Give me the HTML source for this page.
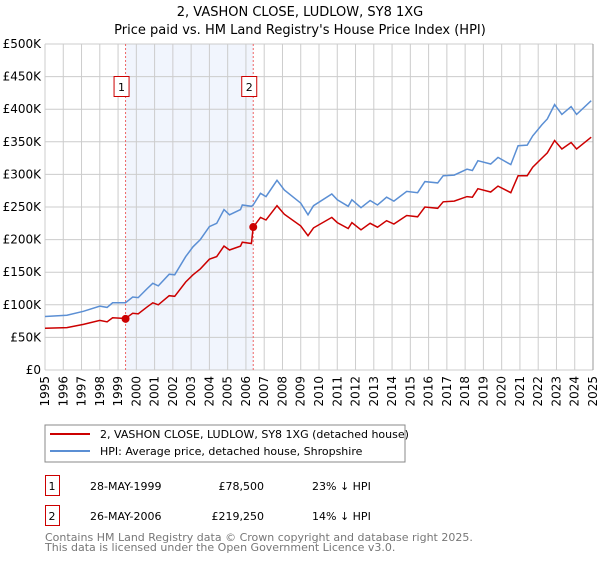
<!DOCTYPE html>
<html><head><meta charset="utf-8"><style>
body{margin:0;background:#fff;font-family:"Liberation Sans","DejaVu Sans",sans-serif;}
svg text{font-family:"DejaVu Sans","Liberation Sans",sans-serif;}
</style></head><body>
<svg id="c" width="600" height="560" xmlns="http://www.w3.org/2000/svg">
<text x="300" y="16" text-anchor="middle" font-size="13">2, VASHON CLOSE, LUDLOW, SY8 1XG</text>
<text x="300" y="34" text-anchor="middle" font-size="13">Price paid vs. HM Land Registry's House Price Index (HPI)</text>
<g id="grid"></g><g id="series"></g><g id="axes"></g>
<rect x="45" y="425" width="360" height="37" fill="#fff" stroke="#888"/>
<line x1="50" y1="434" x2="90" y2="434" stroke="#cc0000" stroke-width="2"/>
<text x="100" y="438" font-size="11">2, VASHON CLOSE, LUDLOW, SY8 1XG (detached house)</text>
<line x1="50" y1="451" x2="90" y2="451" stroke="#5b8fd4" stroke-width="2"/>
<text x="100" y="455" font-size="11">HPI: Average price, detached house, Shropshire</text>
<rect x="45.5" y="475.5" width="14" height="20" fill="none" stroke="#cc0000"/>
<text x="52" y="490" font-size="11" text-anchor="middle">1</text>
<text x="90" y="490" font-size="11">28-MAY-1999</text>
<text x="264" y="490" font-size="11" text-anchor="end">£78,500</text>
<text x="312" y="490" font-size="11">23% ↓ HPI</text>
<rect x="45.5" y="505.5" width="14" height="20" fill="none" stroke="#cc0000"/>
<text x="52" y="520" font-size="11" text-anchor="middle">2</text>
<text x="90" y="520" font-size="11">26-MAY-2006</text>
<text x="264" y="520" font-size="11" text-anchor="end">£219,250</text>
<text x="312" y="520" font-size="11">14% ↓ HPI</text>
<text x="45" y="541" font-size="11" fill="#777">Contains HM Land Registry data © Crown copyright and database right 2025.</text>
<text x="45" y="551" font-size="11" fill="#777">This data is licensed under the Open Government Licence v3.0.</text>
</svg>
<script>
const years=[1995.0,1996.2,1997.1,1998.0,1998.4,1998.7,1999.4,1999.8,2000.1,2000.6,2000.9,2001.2,2001.8,2002.1,2002.7,2003.1,2003.5,2004.0,2004.4,2004.8,2005.1,2005.7,2005.8,2006.3,2006.4,2006.8,2007.1,2007.7,2008.1,2009.0,2009.4,2009.7,2010.7,2011.0,2011.6,2011.8,2012.3,2012.8,2013.2,2013.7,2014.1,2014.8,2015.4,2015.8,2016.5,2016.8,2017.4,2018.1,2018.4,2018.7,2019.4,2019.8,2020.5,2020.9,2021.4,2021.7,2022.2,2022.5,2022.9,2023.3,2023.8,2024.1,2024.9];
const hpi=[82,84,90,98,96,103,103,112,111,125,133,129,147,146,174,189,200,220,225,246,238,246,253,251,253,271,266,291,276,256,238,252,270,261,251,261,249,260,253,265,259,274,272,289,287,298,299,308,306,321,316,326,315,344,345,359,376,385,407,392,404,392,413];
const property=[64,65,70,76,74,80,79,87,86,97,103,100,114,113,135,146,155,170,174,190,184,190,196,194,219,234,230,252,239,221,206,218,234,226,217,226,215,225,219,229,224,237,235,250,248,258,259,266,265,278,273,282,272,298,298,311,325,333,352,339,349,339,357];
const saleYears=[1999.41,2006.4];
const salePrices=[78.5,219.25];
const saleLabels=["1","2"];
const yTicks=[0,50,100,150,200,250,300,350,400,450,500];
const yTickLabels=["£0","£50K","£100K","£150K","£200K","£250K","£300K","£350K","£400K","£450K","£500K"];
const xTicks=[1995,1996,1997,1998,1999,2000,2001,2002,2003,2004,2005,2006,2007,2008,2009,2010,2011,2012,2013,2014,2015,2016,2017,2018,2019,2020,2021,2022,2023,2024,2025];

const NS="http://www.w3.org/2000/svg";
const X=y=>45+(y-1995)*(548/30);
const Y=v=>370-v*(326/500);
function mk(tag,attrs,parent){const e=document.createElementNS(NS,tag);for(const k in attrs)e.setAttribute(k,attrs[k]);parent.appendChild(e);return e;}
const grid=document.getElementById('grid'),ser=document.getElementById('series'),ax=document.getElementById('axes');
const band=mk('rect',{x:X(saleYears[0]),y:Y(500),width:X(saleYears[1])-X(saleYears[0]),height:Y(0)-Y(500),fill:'#eef3fc',opacity:0.8},grid);


yTicks.forEach((t,i)=>{
  const l=mk('line',{x1:45,x2:593,y1:Y(t),y2:Y(t),stroke:'#ccc'},grid);
  
  
  const tx=mk('text',{x:41,y:Y(t)+4,'text-anchor':'end','font-size':12},ax);tx.textContent=yTickLabels[i];
  
  
});
xTicks.forEach(t=>{
  const l=mk('line',{x1:X(t),x2:X(t),y1:Y(0),y2:Y(500),stroke:'#ccc'},grid);
  
  
  const x=X(t)+4, y=376;
  const tx=mk('text',{x:x,y:y,'text-anchor':'end','font-size':12,transform:'rotate(-90 '+x+' '+y+')'},ax);tx.textContent=t;
  
  
});
const edge=mk('line',{x1:593,x2:593,y1:Y(0),y2:Y(500),stroke:'#999'},grid);


saleYears.forEach((s,i)=>{
  const l=mk('line',{x1:X(s),x2:X(s),y1:Y(0),y2:Y(500),stroke:'#e66','stroke-dasharray':'2,2'},grid);
  
  
  const r=mk('rect',{x:X(s)-11.5,y:76.5,width:15,height:20,fill:'#fff',stroke:'#cc0000'},ax);
  
  
  const tx=mk('text',{x:X(s)-4,y:91,'text-anchor':'middle','font-size':11},ax);tx.textContent=saleLabels[i];
  
  
});
const pts=a=>a.map((v,i)=>X(years[i]).toFixed(1)+','+Y(v).toFixed(1)).join(' ');
const h=mk('polyline',{points:pts(hpi),fill:'none',stroke:'#5b8fd4','stroke-width':1.5},ser);


const p=mk('polyline',{points:pts(property),fill:'none',stroke:'#cc0000','stroke-width':1.5},ser);


saleYears.forEach((s,i)=>{
  const c=mk('circle',{cx:X(s),cy:Y(salePrices[i]),r:4,fill:'#cc0000'},ser);
  
  
});
</script>
</body></html>
